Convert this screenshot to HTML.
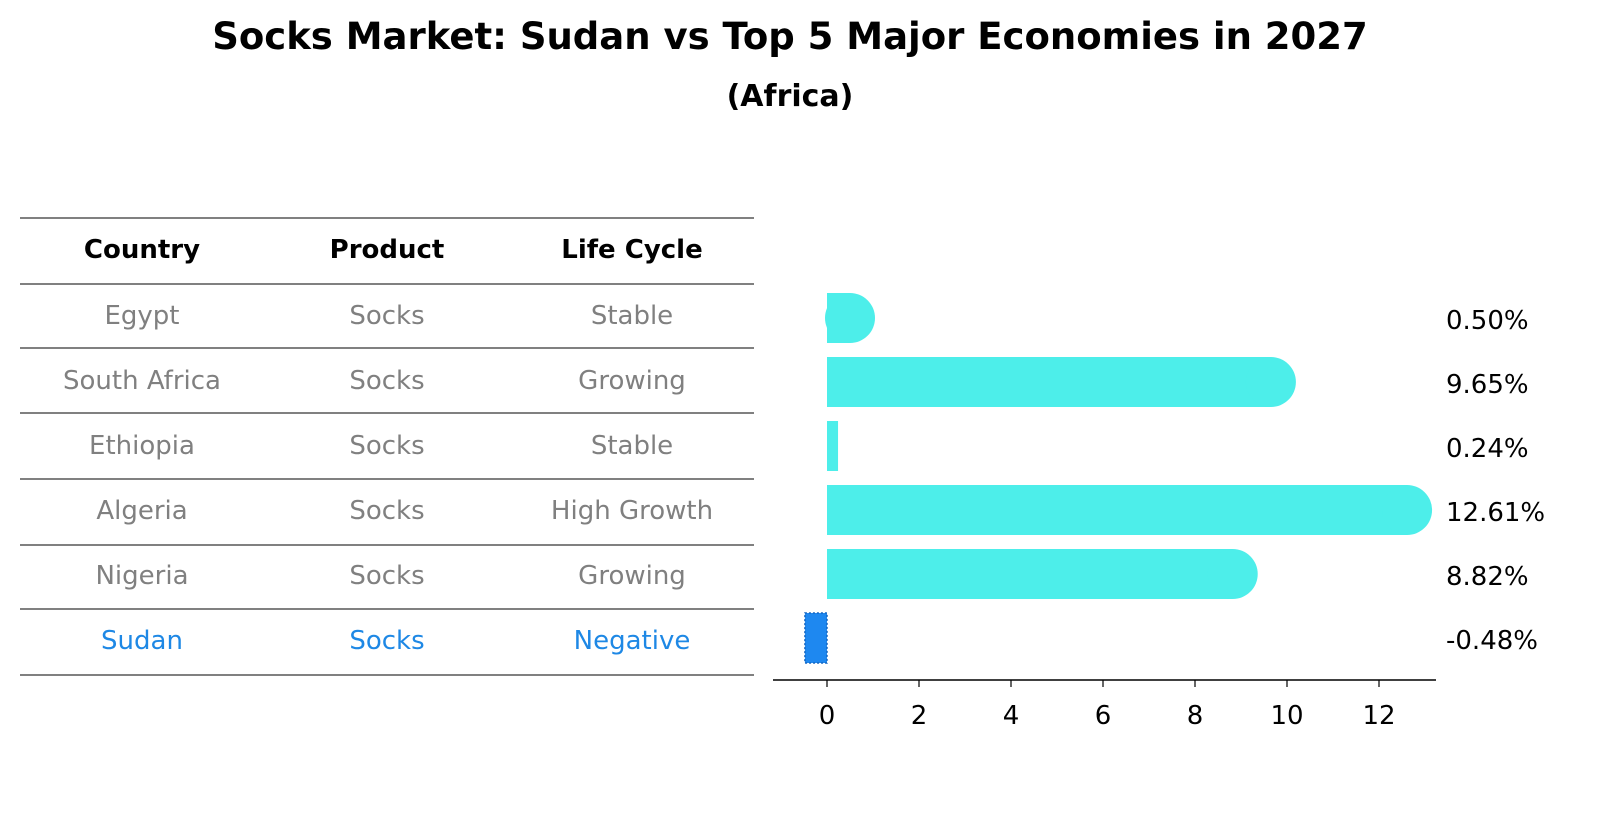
<!DOCTYPE html>
<html><head><meta charset="utf-8"><style>
body{margin:0;background:#fff;font-family:"Liberation Sans","DejaVu Sans",sans-serif}
#root{position:relative;width:1604px;height:823px;overflow:hidden}
svg text{font-family:"DejaVu Sans","Liberation Sans",sans-serif}
</style></head><body>
<div id="root">
<svg id="svg" width="1604" height="823">
<text x="790" y="49" text-anchor="middle" font-size="37" font-weight="bold">Socks Market: Sudan vs Top 5 Major Economies in 2027</text>
<text x="790" y="106" text-anchor="middle" font-size="30" font-weight="bold">(Africa)</text>
<g id="table"></g>
<g id="bars"></g>
</svg>
</div>
<script>
const countries=["Egypt","South Africa","Ethiopia","Algeria","Nigeria","Sudan"];
const products=["Socks","Socks","Socks","Socks","Socks","Socks"];
const lifeCycles=["Stable","Growing","Stable","High Growth","Growing","Negative"];
const growthValues=[0.50,9.65,0.24,12.61,8.82,-0.48];
const valueLabels=["0.50%","9.65%","0.24%","12.61%","8.82%","-0.48%"];
const tickValues=[0,2,4,6,8,10,12];

const NS="http://www.w3.org/2000/svg";
function mk(tag,attrs,parent){const e=document.createElementNS(NS,tag);for(const k in attrs)e.setAttribute(k,attrs[k]);parent.appendChild(e);return e;}
const table=document.getElementById('table');
const bars=document.getElementById('bars');
const rowY=i=>315+i*65;
const lineYs=[218,284,348,413,479,545,609,675];
lineYs.forEach((y,i)=>{
  const l=mk('line',{x1:20,x2:754,y1:y,y2:y,stroke:'#000','stroke-width':1},table);
  
  
});
const colX=[142,387,632];
["Country","Product","Life Cycle"].forEach((h,i)=>{
  const t=mk('text',{x:colX[i],y:258,'text-anchor':'middle','font-size':26,'font-weight':'bold'},table);
  t.textContent=h;
  
  
});
countries.forEach((c,i)=>{
  const col=c==="Sudan"?"#1e88e5":"#808080";
  [c,products[i],lifeCycles[i]].forEach((v,j)=>{
    const t=mk('text',{x:colX[j],y:rowY(i)+9,'text-anchor':'middle','font-size':26,fill:col},table);
    t.textContent=v;
    
    
  });
});
const x0=827,pxPerUnit=46;
const xs=v=>x0+v*pxPerUnit;
const barCY=i=>318+i*64;
const bh=50;
const ax=mk('line',{x1:773,x2:1436,y1:680,y2:680,stroke:'#000','stroke-width':1.5},bars);


tickValues.forEach(v=>{
  const tk=mk('line',{x1:xs(v),x2:xs(v),y1:680,y2:687,stroke:'#000','stroke-width':1.2},bars);
  
  
  const tl=mk('text',{x:xs(v),y:724,'text-anchor':'middle','font-size':26},bars);
  tl.textContent=v;
  
  
});
growthValues.forEach((v,i)=>{
  const cy=barCY(i);
  if(v>=0){
    const r=mk('rect',{x:x0,y:cy-bh/2,width:v*pxPerUnit,height:bh,fill:'#4deeea'},bars);
    
    
    if(v>0.3){
      const cap=mk('circle',{cx:xs(v),cy:cy,r:bh/2,fill:'#4deeea'},bars);
      
      
    }
  } else {
    const r=mk('rect',{x:xs(v),y:cy-bh/2,width:-v*pxPerUnit,height:bh,fill:'#1e88f0',stroke:'#1565c0','stroke-width':1.5,'stroke-dasharray':'2,2'},bars);
    
    
  }
  const t=mk('text',{x:1446,y:cy+11,'font-size':26},bars);
  t.textContent=valueLabels[i];
  
  
});
</script>
</body></html>
